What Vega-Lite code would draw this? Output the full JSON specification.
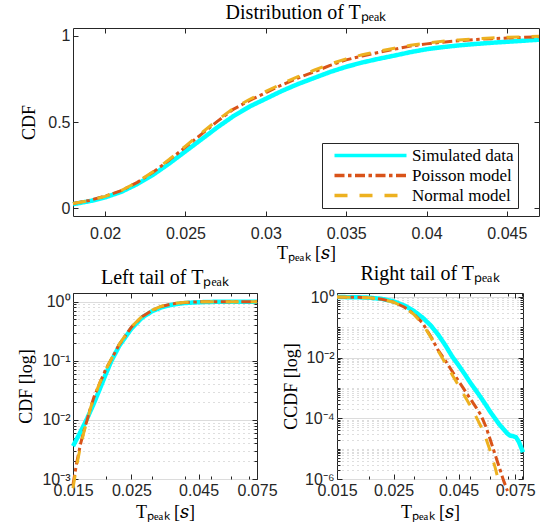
{
  "$schema": "https://vega.github.io/schema/vega-lite/v6.json",
  "padding": {"left": 17, "top": 2, "right": 0, "bottom": 0},
  "datasets": {
    "top": [
      {"s": "Simulated data", "x": 0.018, "y": 0.024}, {"s": "Simulated data", "x": 0.019, "y": 0.04}, {"s": "Simulated data", "x": 0.02, "y": 0.063}, {"s": "Simulated data", "x": 0.021, "y": 0.095}, {"s": "Simulated data", "x": 0.022, "y": 0.14}, {"s": "Simulated data", "x": 0.023, "y": 0.195}, {"s": "Simulated data", "x": 0.024, "y": 0.26}, {"s": "Simulated data", "x": 0.025, "y": 0.33}, {"s": "Simulated data", "x": 0.026, "y": 0.4}, {"s": "Simulated data", "x": 0.027, "y": 0.47}, {"s": "Simulated data", "x": 0.028, "y": 0.535}, {"s": "Simulated data", "x": 0.029, "y": 0.59}, {"s": "Simulated data", "x": 0.03, "y": 0.635}, {"s": "Simulated data", "x": 0.031, "y": 0.68}, {"s": "Simulated data", "x": 0.032, "y": 0.72}, {"s": "Simulated data", "x": 0.033, "y": 0.755}, {"s": "Simulated data", "x": 0.034, "y": 0.79}, {"s": "Simulated data", "x": 0.035, "y": 0.82}, {"s": "Simulated data", "x": 0.036, "y": 0.845}, {"s": "Simulated data", "x": 0.037, "y": 0.866}, {"s": "Simulated data", "x": 0.038, "y": 0.885}, {"s": "Simulated data", "x": 0.039, "y": 0.905}, {"s": "Simulated data", "x": 0.04, "y": 0.922}, {"s": "Simulated data", "x": 0.041, "y": 0.934}, {"s": "Simulated data", "x": 0.042, "y": 0.944}, {"s": "Simulated data", "x": 0.043, "y": 0.952}, {"s": "Simulated data", "x": 0.044, "y": 0.959}, {"s": "Simulated data", "x": 0.045, "y": 0.965}, {"s": "Simulated data", "x": 0.046, "y": 0.971}, {"s": "Simulated data", "x": 0.047, "y": 0.977},
      {"s": "Poisson model", "x": 0.018, "y": 0.028}, {"s": "Poisson model", "x": 0.019, "y": 0.045}, {"s": "Poisson model", "x": 0.02, "y": 0.07}, {"s": "Poisson model", "x": 0.021, "y": 0.102}, {"s": "Poisson model", "x": 0.022, "y": 0.15}, {"s": "Poisson model", "x": 0.023, "y": 0.21}, {"s": "Poisson model", "x": 0.024, "y": 0.28}, {"s": "Poisson model", "x": 0.025, "y": 0.355}, {"s": "Poisson model", "x": 0.026, "y": 0.43}, {"s": "Poisson model", "x": 0.027, "y": 0.505}, {"s": "Poisson model", "x": 0.028, "y": 0.575}, {"s": "Poisson model", "x": 0.029, "y": 0.625}, {"s": "Poisson model", "x": 0.03, "y": 0.67}, {"s": "Poisson model", "x": 0.031, "y": 0.715}, {"s": "Poisson model", "x": 0.032, "y": 0.755}, {"s": "Poisson model", "x": 0.033, "y": 0.79}, {"s": "Poisson model", "x": 0.034, "y": 0.828}, {"s": "Poisson model", "x": 0.035, "y": 0.86}, {"s": "Poisson model", "x": 0.036, "y": 0.883}, {"s": "Poisson model", "x": 0.037, "y": 0.903}, {"s": "Poisson model", "x": 0.038, "y": 0.922}, {"s": "Poisson model", "x": 0.039, "y": 0.94}, {"s": "Poisson model", "x": 0.04, "y": 0.953}, {"s": "Poisson model", "x": 0.041, "y": 0.963}, {"s": "Poisson model", "x": 0.042, "y": 0.971}, {"s": "Poisson model", "x": 0.043, "y": 0.978}, {"s": "Poisson model", "x": 0.044, "y": 0.983}, {"s": "Poisson model", "x": 0.045, "y": 0.987}, {"s": "Poisson model", "x": 0.046, "y": 0.991}, {"s": "Poisson model", "x": 0.047, "y": 0.994},
      {"s": "Normal model", "x": 0.018, "y": 0.027}, {"s": "Normal model", "x": 0.019, "y": 0.044}, {"s": "Normal model", "x": 0.02, "y": 0.069}, {"s": "Normal model", "x": 0.021, "y": 0.103}, {"s": "Normal model", "x": 0.022, "y": 0.152}, {"s": "Normal model", "x": 0.023, "y": 0.213}, {"s": "Normal model", "x": 0.024, "y": 0.284}, {"s": "Normal model", "x": 0.025, "y": 0.36}, {"s": "Normal model", "x": 0.026, "y": 0.437}, {"s": "Normal model", "x": 0.027, "y": 0.512}, {"s": "Normal model", "x": 0.028, "y": 0.58}, {"s": "Normal model", "x": 0.029, "y": 0.632}, {"s": "Normal model", "x": 0.03, "y": 0.677}, {"s": "Normal model", "x": 0.031, "y": 0.722}, {"s": "Normal model", "x": 0.032, "y": 0.763}, {"s": "Normal model", "x": 0.033, "y": 0.8}, {"s": "Normal model", "x": 0.034, "y": 0.836}, {"s": "Normal model", "x": 0.035, "y": 0.866}, {"s": "Normal model", "x": 0.036, "y": 0.89}, {"s": "Normal model", "x": 0.037, "y": 0.91}, {"s": "Normal model", "x": 0.038, "y": 0.928}, {"s": "Normal model", "x": 0.039, "y": 0.945}, {"s": "Normal model", "x": 0.04, "y": 0.958}, {"s": "Normal model", "x": 0.041, "y": 0.968}, {"s": "Normal model", "x": 0.042, "y": 0.976}, {"s": "Normal model", "x": 0.043, "y": 0.982}, {"s": "Normal model", "x": 0.044, "y": 0.987}, {"s": "Normal model", "x": 0.045, "y": 0.991}, {"s": "Normal model", "x": 0.046, "y": 0.994}, {"s": "Normal model", "x": 0.047, "y": 0.997}
    ],
    "left": [
      {"s": "Simulated data", "x": 0.015, "y": 0.0036}, {"s": "Simulated data", "x": 0.016, "y": 0.0062}, {"s": "Simulated data", "x": 0.017, "y": 0.0107}, {"s": "Simulated data", "x": 0.018, "y": 0.019}, {"s": "Simulated data", "x": 0.019, "y": 0.034}, {"s": "Simulated data", "x": 0.02, "y": 0.06}, {"s": "Simulated data", "x": 0.021, "y": 0.1}, {"s": "Simulated data", "x": 0.0225, "y": 0.18}, {"s": "Simulated data", "x": 0.025, "y": 0.35}, {"s": "Simulated data", "x": 0.0275, "y": 0.54}, {"s": "Simulated data", "x": 0.03, "y": 0.69}, {"s": "Simulated data", "x": 0.0325, "y": 0.8}, {"s": "Simulated data", "x": 0.035, "y": 0.87}, {"s": "Simulated data", "x": 0.0375, "y": 0.918}, {"s": "Simulated data", "x": 0.04, "y": 0.948}, {"s": "Simulated data", "x": 0.045, "y": 0.977}, {"s": "Simulated data", "x": 0.05, "y": 0.99}, {"s": "Simulated data", "x": 0.055, "y": 0.996}, {"s": "Simulated data", "x": 0.06, "y": 0.998}, {"s": "Simulated data", "x": 0.075, "y": 0.9995},
      {"s": "Poisson model", "x": 0.015, "y": 0.0008}, {"s": "Poisson model", "x": 0.0155, "y": 0.0019}, {"s": "Poisson model", "x": 0.016, "y": 0.0038}, {"s": "Poisson model", "x": 0.0165, "y": 0.0065}, {"s": "Poisson model", "x": 0.017, "y": 0.0102}, {"s": "Poisson model", "x": 0.0175, "y": 0.0162}, {"s": "Poisson model", "x": 0.018, "y": 0.024}, {"s": "Poisson model", "x": 0.019, "y": 0.043}, {"s": "Poisson model", "x": 0.02, "y": 0.072}, {"s": "Poisson model", "x": 0.021, "y": 0.107}, {"s": "Poisson model", "x": 0.0225, "y": 0.19}, {"s": "Poisson model", "x": 0.025, "y": 0.37}, {"s": "Poisson model", "x": 0.0275, "y": 0.56}, {"s": "Poisson model", "x": 0.03, "y": 0.71}, {"s": "Poisson model", "x": 0.0325, "y": 0.83}, {"s": "Poisson model", "x": 0.035, "y": 0.9}, {"s": "Poisson model", "x": 0.0375, "y": 0.945}, {"s": "Poisson model", "x": 0.04, "y": 0.97}, {"s": "Poisson model", "x": 0.045, "y": 0.99}, {"s": "Poisson model", "x": 0.05, "y": 0.997}, {"s": "Poisson model", "x": 0.06, "y": 0.9995}, {"s": "Poisson model", "x": 0.075, "y": 1},
      {"s": "Normal model", "x": 0.015, "y": 0.0007}, {"s": "Normal model", "x": 0.0155, "y": 0.0017}, {"s": "Normal model", "x": 0.016, "y": 0.0035}, {"s": "Normal model", "x": 0.0165, "y": 0.0062}, {"s": "Normal model", "x": 0.017, "y": 0.0099}, {"s": "Normal model", "x": 0.0175, "y": 0.016}, {"s": "Normal model", "x": 0.018, "y": 0.0238}, {"s": "Normal model", "x": 0.019, "y": 0.043}, {"s": "Normal model", "x": 0.02, "y": 0.072}, {"s": "Normal model", "x": 0.021, "y": 0.108}, {"s": "Normal model", "x": 0.0225, "y": 0.192}, {"s": "Normal model", "x": 0.025, "y": 0.375}, {"s": "Normal model", "x": 0.0275, "y": 0.57}, {"s": "Normal model", "x": 0.03, "y": 0.72}, {"s": "Normal model", "x": 0.0325, "y": 0.84}, {"s": "Normal model", "x": 0.035, "y": 0.91}, {"s": "Normal model", "x": 0.0375, "y": 0.952}, {"s": "Normal model", "x": 0.04, "y": 0.975}, {"s": "Normal model", "x": 0.045, "y": 0.993}, {"s": "Normal model", "x": 0.05, "y": 0.998}, {"s": "Normal model", "x": 0.06, "y": 0.9998}, {"s": "Normal model", "x": 0.075, "y": 1}
    ],
    "right": [
      {"s": "Simulated data", "x": 0.015, "y": 0.999}, {"s": "Simulated data", "x": 0.0175, "y": 0.99}, {"s": "Simulated data", "x": 0.02, "y": 0.955}, {"s": "Simulated data", "x": 0.0225, "y": 0.87}, {"s": "Simulated data", "x": 0.025, "y": 0.72}, {"s": "Simulated data", "x": 0.0275, "y": 0.53}, {"s": "Simulated data", "x": 0.03, "y": 0.35}, {"s": "Simulated data", "x": 0.0325, "y": 0.21}, {"s": "Simulated data", "x": 0.035, "y": 0.115}, {"s": "Simulated data", "x": 0.0375, "y": 0.056}, {"s": "Simulated data", "x": 0.04, "y": 0.025}, {"s": "Simulated data", "x": 0.0425, "y": 0.0108}, {"s": "Simulated data", "x": 0.045, "y": 0.0056}, {"s": "Simulated data", "x": 0.0475, "y": 0.0029}, {"s": "Simulated data", "x": 0.05, "y": 0.0015}, {"s": "Simulated data", "x": 0.0525, "y": 0.00085}, {"s": "Simulated data", "x": 0.055, "y": 0.00049}, {"s": "Simulated data", "x": 0.0575, "y": 0.00028}, {"s": "Simulated data", "x": 0.06, "y": 0.00016}, {"s": "Simulated data", "x": 0.0625, "y": 0.0001}, {"s": "Simulated data", "x": 0.065, "y": 0.000063}, {"s": "Simulated data", "x": 0.0675, "y": 0.000044}, {"s": "Simulated data", "x": 0.0695, "y": 0.000033}, {"s": "Simulated data", "x": 0.0715, "y": 0.000027}, {"s": "Simulated data", "x": 0.0735, "y": 0.000026}, {"s": "Simulated data", "x": 0.0755, "y": 0.000024}, {"s": "Simulated data", "x": 0.0775, "y": 0.000017}, {"s": "Simulated data", "x": 0.0795, "y": 0.00001}, {"s": "Simulated data", "x": 0.0805, "y": 0.0000076},
      {"s": "Poisson model", "x": 0.015, "y": 0.999}, {"s": "Poisson model", "x": 0.0175, "y": 0.99}, {"s": "Poisson model", "x": 0.02, "y": 0.95}, {"s": "Poisson model", "x": 0.0225, "y": 0.85}, {"s": "Poisson model", "x": 0.025, "y": 0.68}, {"s": "Poisson model", "x": 0.0275, "y": 0.47}, {"s": "Poisson model", "x": 0.03, "y": 0.28}, {"s": "Poisson model", "x": 0.0325, "y": 0.14}, {"s": "Poisson model", "x": 0.035, "y": 0.05}, {"s": "Poisson model", "x": 0.0375, "y": 0.017}, {"s": "Poisson model", "x": 0.04, "y": 0.0078}, {"s": "Poisson model", "x": 0.0425, "y": 0.0035}, {"s": "Poisson model", "x": 0.045, "y": 0.0017}, {"s": "Poisson model", "x": 0.0475, "y": 0.00085}, {"s": "Poisson model", "x": 0.05, "y": 0.00044}, {"s": "Poisson model", "x": 0.0525, "y": 0.00024}, {"s": "Poisson model", "x": 0.055, "y": 0.00013}, {"s": "Poisson model", "x": 0.0575, "y": 0.000055}, {"s": "Poisson model", "x": 0.06, "y": 0.000019}, {"s": "Poisson model", "x": 0.0625, "y": 0.0000066}, {"s": "Poisson model", "x": 0.065, "y": 0.0000024}, {"s": "Poisson model", "x": 0.0675, "y": 0.0000009}, {"s": "Poisson model", "x": 0.07, "y": 0.0000004},
      {"s": "Normal model", "x": 0.015, "y": 0.999}, {"s": "Normal model", "x": 0.0175, "y": 0.99}, {"s": "Normal model", "x": 0.02, "y": 0.95}, {"s": "Normal model", "x": 0.0225, "y": 0.85}, {"s": "Normal model", "x": 0.025, "y": 0.675}, {"s": "Normal model", "x": 0.0275, "y": 0.465}, {"s": "Normal model", "x": 0.03, "y": 0.27}, {"s": "Normal model", "x": 0.0325, "y": 0.13}, {"s": "Normal model", "x": 0.035, "y": 0.047}, {"s": "Normal model", "x": 0.0375, "y": 0.016}, {"s": "Normal model", "x": 0.04, "y": 0.0065}, {"s": "Normal model", "x": 0.0425, "y": 0.0027}, {"s": "Normal model", "x": 0.045, "y": 0.0012}, {"s": "Normal model", "x": 0.0475, "y": 0.00055}, {"s": "Normal model", "x": 0.05, "y": 0.00026}, {"s": "Normal model", "x": 0.0525, "y": 0.00012}, {"s": "Normal model", "x": 0.055, "y": 0.000055}, {"s": "Normal model", "x": 0.0575, "y": 0.000023}, {"s": "Normal model", "x": 0.06, "y": 0.000008}, {"s": "Normal model", "x": 0.0625, "y": 0.0000025}, {"s": "Normal model", "x": 0.065, "y": 0.0000007}
    ]
  },
  "config": {
    "view": {"stroke": "#262626", "strokeWidth": 1},
    "font": "Liberation Serif",
    "axis": {"labelFont": "Liberation Sans", "labelFontSize": 16, "labelColor": "#262626", "titleFont": "Liberation Serif", "titleFontSize": 18, "titleFontWeight": "normal", "titleColor": "#000000", "tickColor": "#262626", "tickSize": -5, "tickWidth": 1, "domain": false, "grid": false, "labelFlush": false, "labelOverlap": false, "labelPadding": 8},
    "title": {"font": "Liberation Serif", "fontSize": 20, "fontWeight": "normal", "color": "#000000", "offset": 5},
    "line": {"strokeCap": "butt", "strokeJoin": "round", "clip": true}
  },
  "concat": [
    {
      "width": 466, "height": 188,
      "title": {"text": "Distribution of Tₚₑₐₖ"},
      "data": {"name": "top"},
      "encoding": {
        "color": {"field": "s", "type": "nominal", "scale": {"domain": ["Simulated data", "Poisson model", "Normal model"], "range": ["#00FFFF", "#D95319", "#EDB120"]},
          "legend": {"orient": "none", "legendX": 249, "legendY": 115, "title": null, "strokeColor": "#262626", "fillColor": "#ffffff", "padding": 4, "rowPadding": 2, "symbolType": "M0,0H36", "symbolSize": 16, "symbolStrokeWidth": 3.5, "labelOffset": 69, "labelFont": "Liberation Serif", "labelFontSize": 17, "labelColor": "#000000"}},
        "strokeDash": {"field": "s", "type": "nominal", "scale": {"domain": ["Simulated data", "Poisson model", "Normal model"], "range": [[1, 0], [10, 3.5, 3.5, 3.5], [13, 12]]},
          "legend": {"orient": "none", "legendX": 249, "legendY": 115, "title": null, "strokeColor": "#262626", "fillColor": "#ffffff", "padding": 4, "rowPadding": 2, "symbolType": "M0,0H36", "symbolSize": 16, "symbolStrokeWidth": 3.5, "labelOffset": 69, "labelFont": "Liberation Serif", "labelFontSize": 17, "labelColor": "#000000"}}
      },
      "layer": [
        {"transform": [{"filter": "datum.s === 'Simulated data'"}], "mark": {"type": "line", "strokeWidth": 4.5},
          "encoding": {
            "x": {"field": "x", "type": "quantitative", "scale": {"domain": [0.018, 0.047], "nice": false, "zero": false}, "axis": {"orient": "bottom", "values": [0.02, 0.025, 0.03, 0.035, 0.04, 0.045], "format": ".3~f", "title": "Tₚₑₐₖ [𝑠]", "labelPadding": 14, "titlePadding": 3}},
            "y": {"field": "y", "type": "quantitative", "scale": {"domain": [-0.045, 1.045], "nice": false, "zero": false}, "axis": {"orient": "left", "values": [0, 0.5, 1], "format": "~g", "title": "CDF", "titlePadding": 9}}}},
        {"transform": [{"filter": "datum.s === 'Poisson model'"}], "mark": {"type": "line", "strokeWidth": 3},
          "encoding": {"x": {"field": "x", "type": "quantitative", "axis": null}, "y": {"field": "y", "type": "quantitative", "axis": null}}},
        {"transform": [{"filter": "datum.s === 'Normal model'"}], "mark": {"type": "line", "strokeWidth": 3},
          "encoding": {"x": {"field": "x", "type": "quantitative", "axis": null}, "y": {"field": "y", "type": "quantitative", "axis": null}}},
        {"mark": {"type": "line", "opacity": 0},
          "encoding": {
            "x": {"field": "x", "type": "quantitative", "axis": {"orient": "top", "values": [0.02, 0.025, 0.03, 0.035, 0.04, 0.045], "labels": false, "title": null}},
            "y": {"field": "y", "type": "quantitative", "axis": {"orient": "right", "values": [0, 0.5, 1], "labels": false, "title": null}}}}
      ],
      "resolve": {"axis": {"x": "independent", "y": "independent"}}
    },
    {
      "hconcat": [
        {
          "width": 184, "height": 186,
          "title": {"text": "Left tail of Tₚₑₐₖ"},
          "data": {"name": "left"},
          "encoding": {
            "color": {"field": "s", "type": "nominal", "scale": {"domain": ["Simulated data", "Poisson model", "Normal model"], "range": ["#00FFFF", "#D95319", "#EDB120"]}, "legend": null},
            "strokeDash": {"field": "s", "type": "nominal", "scale": {"domain": ["Simulated data", "Poisson model", "Normal model"], "range": [[1, 0], [10, 3.5, 3.5, 3.5], [13, 12]]}, "legend": null}
          },
          "layer": [
            {"transform": [{"filter": "datum.s === 'Simulated data'"}], "mark": {"type": "line", "strokeWidth": 4.5},
              "encoding": {
                "x": {"field": "x", "type": "quantitative", "scale": {"type": "log", "domain": [0.015, 0.075], "nice": false}, "axis": {"orient": "bottom", "values": [0.015, 0.02, 0.025, 0.03, 0.04, 0.045, 0.05, 0.06, 0.07, 0.075], "labelExpr": "indexof([0.015, 0.025, 0.045, 0.075], datum.value) >= 0 ? format(datum.value, '.3f') : ''", "title": "Tₚₑₐₖ [𝑠]", "labelPadding": 8, "titlePadding": 3,
                  "tickSize": {"condition": {"test": "indexof([0.015, 0.025, 0.045, 0.075], datum.value) >= 0", "value": -5}, "value": -3}}},
                "y": {"field": "y", "type": "quantitative", "scale": {"type": "log", "domain": [0.001, 1.4], "nice": false}, "axis": {"orient": "left", "values": [0.001, 0.002, 0.003, 0.004, 0.005, 0.006, 0.007, 0.008, 0.009, 0.01, 0.02, 0.03, 0.04, 0.05, 0.06, 0.07, 0.08, 0.09, 0.1, 0.2, 0.3, 0.4, 0.5, 0.6, 0.7, 0.8, 0.9, 1], "labelExpr": "datum.value == 1 ? '10⁰' : datum.value == 0.1 ? '10⁻¹' : datum.value == 0.01 ? '10⁻²' : datum.value == 0.001 ? '10⁻³' : ''", "title": "CDF [log]", "titlePadding": 6, "grid": true,
                  "tickSize": {"condition": {"test": "indexof([1, 0.1, 0.01, 0.001], datum.value) >= 0", "value": -5}, "value": -3},
                  "gridColor": {"condition": {"test": "indexof([1, 0.1, 0.01, 0.001], datum.value) >= 0", "value": "#dcdcdc"}, "value": "#bdbdbd"},
                  "gridDash": {"condition": {"test": "indexof([1, 0.1, 0.01, 0.001], datum.value) >= 0", "value": []}, "value": [1, 4]}}}}},
            {"transform": [{"filter": "datum.s === 'Poisson model'"}], "mark": {"type": "line", "strokeWidth": 3},
              "encoding": {"x": {"field": "x", "type": "quantitative", "scale": {"type": "log"}, "axis": null}, "y": {"field": "y", "type": "quantitative", "scale": {"type": "log"}, "axis": null}}},
            {"transform": [{"filter": "datum.s === 'Normal model'"}], "mark": {"type": "line", "strokeWidth": 3},
              "encoding": {"x": {"field": "x", "type": "quantitative", "scale": {"type": "log"}, "axis": null}, "y": {"field": "y", "type": "quantitative", "scale": {"type": "log"}, "axis": null}}},
            {"mark": {"type": "line", "opacity": 0},
              "encoding": {
                "x": {"field": "x", "type": "quantitative", "scale": {"type": "log"}, "axis": {"orient": "top", "values": [0.015, 0.02, 0.025, 0.03, 0.04, 0.045, 0.05, 0.06, 0.07, 0.075], "labels": false, "title": null,
                  "tickSize": {"condition": {"test": "indexof([0.015, 0.025, 0.045, 0.075], datum.value) >= 0", "value": -5}, "value": -3}}},
                "y": {"field": "y", "type": "quantitative", "scale": {"type": "log"}, "axis": {"orient": "right", "values": [0.001, 0.002, 0.003, 0.004, 0.005, 0.006, 0.007, 0.008, 0.009, 0.01, 0.02, 0.03, 0.04, 0.05, 0.06, 0.07, 0.08, 0.09, 0.1, 0.2, 0.3, 0.4, 0.5, 0.6, 0.7, 0.8, 0.9, 1], "labels": false, "title": null,
                  "tickSize": {"condition": {"test": "indexof([1, 0.1, 0.01, 0.001], datum.value) >= 0", "value": -5}, "value": -3}}}}}
          ],
          "resolve": {"axis": {"x": "independent", "y": "independent"}}
        },
        {
          "width": 186, "height": 186,
          "title": {"text": "Right tail of Tₚₑₐₖ"},
          "data": {"name": "right"},
          "encoding": {
            "color": {"field": "s", "type": "nominal", "scale": {"domain": ["Simulated data", "Poisson model", "Normal model"], "range": ["#00FFFF", "#D95319", "#EDB120"]}, "legend": null},
            "strokeDash": {"field": "s", "type": "nominal", "scale": {"domain": ["Simulated data", "Poisson model", "Normal model"], "range": [[1, 0], [10, 3.5, 3.5, 3.5], [13, 12]]}, "legend": null}
          },
          "layer": [
            {"transform": [{"filter": "datum.s === 'Simulated data'"}], "mark": {"type": "line", "strokeWidth": 4.5},
              "encoding": {
                "x": {"field": "x", "type": "quantitative", "scale": {"type": "log", "domain": [0.015, 0.0805], "nice": false}, "axis": {"orient": "bottom", "values": [0.015, 0.02, 0.025, 0.03, 0.04, 0.045, 0.05, 0.06, 0.07, 0.075, 0.08], "labelExpr": "indexof([0.015, 0.025, 0.045, 0.075], datum.value) >= 0 ? format(datum.value, '.3f') : ''", "title": "Tₚₑₐₖ [𝑠]", "labelPadding": 8, "titlePadding": 3,
                  "tickSize": {"condition": {"test": "indexof([0.015, 0.025, 0.045, 0.075], datum.value) >= 0", "value": -5}, "value": -3}}},
                "y": {"field": "y", "type": "quantitative", "scale": {"type": "log", "domain": [0.000001, 1.36], "nice": false}, "axis": {"orient": "left", "values": [0.000001, 0.000002, 0.000003, 0.000004, 0.000005, 0.000006, 0.000007, 0.000008, 0.000009, 0.00001, 0.00002, 0.00003, 0.00004, 0.00005, 0.00006, 0.00007, 0.00008, 0.00009, 0.0001, 0.0002, 0.0003, 0.0004, 0.0005, 0.0006, 0.0007, 0.0008, 0.0009, 0.001, 0.002, 0.003, 0.004, 0.005, 0.006, 0.007, 0.008, 0.009, 0.01, 0.02, 0.03, 0.04, 0.05, 0.06, 0.07, 0.08, 0.09, 0.1, 0.2, 0.3, 0.4, 0.5, 0.6, 0.7, 0.8, 0.9, 1], "labelExpr": "datum.value == 1 ? '10⁰' : datum.value == 0.01 ? '10⁻²' : datum.value == 0.0001 ? '10⁻⁴' : datum.value == 0.000001 ? '10⁻⁶' : ''", "title": "CCDF [log]", "titlePadding": 4, "grid": true,
                  "tickSize": {"condition": {"test": "indexof([1, 0.01, 0.0001, 0.000001], datum.value) >= 0", "value": -5}, "value": -3},
                  "gridColor": {"condition": {"test": "indexof([1, 0.01, 0.0001, 0.000001], datum.value) >= 0", "value": "#dcdcdc"}, "value": "#bdbdbd"},
                  "gridDash": {"condition": {"test": "indexof([1, 0.01, 0.0001, 0.000001], datum.value) >= 0", "value": []}, "value": [1, 4]}}}}},
            {"transform": [{"filter": "datum.s === 'Poisson model'"}], "mark": {"type": "line", "strokeWidth": 3},
              "encoding": {"x": {"field": "x", "type": "quantitative", "scale": {"type": "log"}, "axis": null}, "y": {"field": "y", "type": "quantitative", "scale": {"type": "log"}, "axis": null}}},
            {"transform": [{"filter": "datum.s === 'Normal model'"}], "mark": {"type": "line", "strokeWidth": 3},
              "encoding": {"x": {"field": "x", "type": "quantitative", "scale": {"type": "log"}, "axis": null}, "y": {"field": "y", "type": "quantitative", "scale": {"type": "log"}, "axis": null}}},
            {"mark": {"type": "line", "opacity": 0},
              "encoding": {
                "x": {"field": "x", "type": "quantitative", "scale": {"type": "log"}, "axis": {"orient": "top", "values": [0.015, 0.02, 0.025, 0.03, 0.04, 0.045, 0.05, 0.06, 0.07, 0.075, 0.08], "labels": false, "title": null,
                  "tickSize": {"condition": {"test": "indexof([0.015, 0.025, 0.045, 0.075], datum.value) >= 0", "value": -5}, "value": -3}}},
                "y": {"field": "y", "type": "quantitative", "scale": {"type": "log"}, "axis": {"orient": "right", "values": [0.000001, 0.000002, 0.000003, 0.000004, 0.000005, 0.000006, 0.000007, 0.000008, 0.000009, 0.00001, 0.00002, 0.00003, 0.00004, 0.00005, 0.00006, 0.00007, 0.00008, 0.00009, 0.0001, 0.0002, 0.0003, 0.0004, 0.0005, 0.0006, 0.0007, 0.0008, 0.0009, 0.001, 0.002, 0.003, 0.004, 0.005, 0.006, 0.007, 0.008, 0.009, 0.01, 0.02, 0.03, 0.04, 0.05, 0.06, 0.07, 0.08, 0.09, 0.1, 0.2, 0.3, 0.4, 0.5, 0.6, 0.7, 0.8, 0.9, 1], "labels": false, "title": null,
                  "tickSize": {"condition": {"test": "indexof([1, 0.01, 0.0001, 0.000001], datum.value) >= 0", "value": -5}, "value": -3}}}}}
          ],
          "resolve": {"axis": {"x": "independent", "y": "independent"}}
        }
      ],
      "spacing": 3
    }
  ],
  "columns": 1,
  "align": "none",
  "spacing": 0,
  "resolve": {"scale": {"color": "independent", "strokeDash": "independent"}}
}
